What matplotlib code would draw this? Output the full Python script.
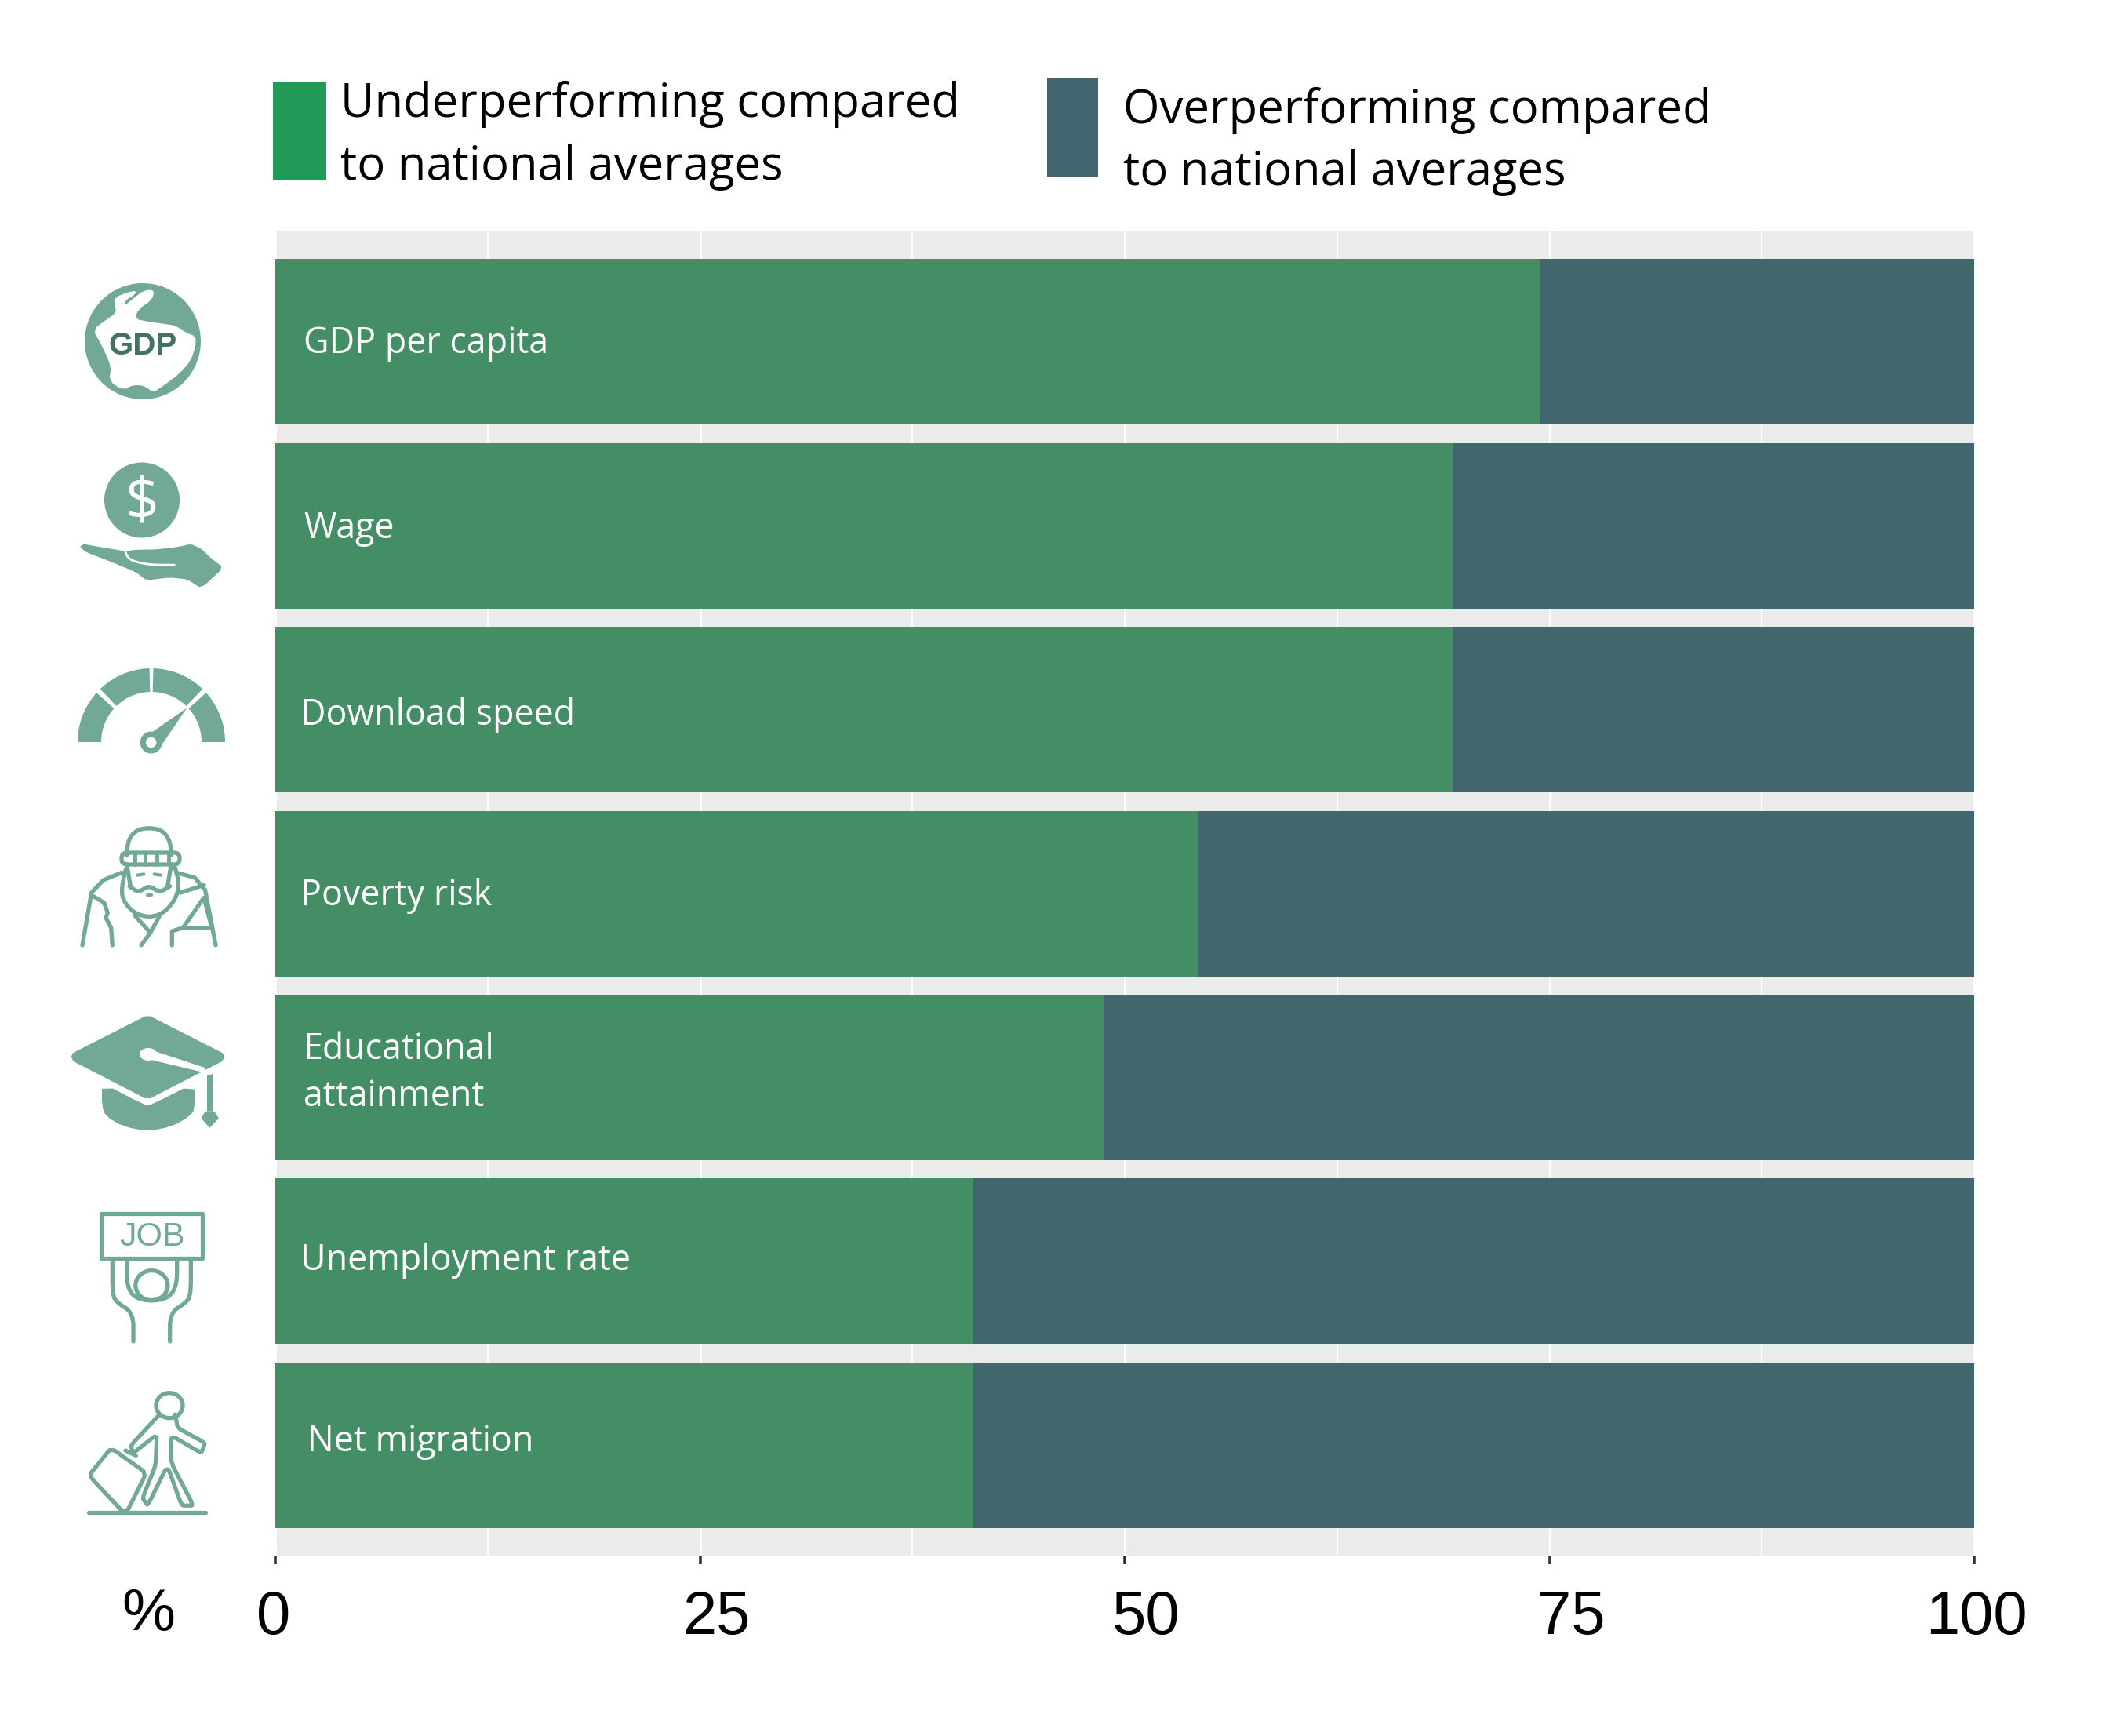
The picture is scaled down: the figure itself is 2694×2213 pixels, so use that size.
import numpy as np
import matplotlib
matplotlib.use("Agg")
import matplotlib.pyplot as plt
from matplotlib.patches import Rectangle, Polygon, Circle, Ellipse, FancyBboxPatch

W, H = 2694, 2213

categories = ["GDP per capita", "Wage", "Download speed", "Poverty risk",
              "Educational\nattainment", "Unemployment rate", "Net migration"]
under = [74.4, 69.3, 69.3, 54.3, 48.8, 41.1, 41.1]
over = [25.6, 30.7, 30.7, 45.7, 51.2, 58.9, 58.9]
ticks = [0, 25, 50, 75, 100]
tick_labels = ["0", "25", "50", "75", "100"]

GREEN = "#438E65"
DARK = "#42666E"
LEG_GREEN = "#229A58"
LEG_DARK = "#42666F"
ICON = "#72A897"
PANEL = "#EBEBEB"
SANS = "Open Sans"
ARIAL = "Liberation Sans"

fig = plt.figure(figsize=(W / 100, H / 100), dpi=100, facecolor="white")

# main panel
x0, x1, y0, y1 = 351, 2517, 295, 1983
ax = fig.add_axes([x0 / W, 1 - y1 / H, (x1 - x0) / W, (y1 - y0) / H], facecolor=PANEL)
pos = np.arange(1, len(categories) + 1)
ax.barh(pos, under, height=0.9, color=GREEN, zorder=3)
ax.barh(pos, over, height=0.9, left=under, color=DARK, zorder=3)
ax.set_xlim(0, 100)
ax.set_ylim(7.6, 0.4)
ax.set_xticks(ticks)
ax.set_xticklabels([])
ax.set_xticks([12.5, 37.5, 62.5, 87.5], minor=True)
ax.set_yticks([])
ax.grid(which="major", axis="x", color="white", lw=2.0, zorder=1)
ax.grid(which="minor", axis="x", color="white", lw=1.3, zorder=1)
ax.tick_params(axis="x", which="major", length=8, width=2.6, color="#333333")
ax.tick_params(axis="x", which="minor", length=0)
for s in ax.spines.values():
    s.set_visible(False)

# overlay in image pixels, for legend, labels and icons
ov = fig.add_axes([0, 0, 1, 1], facecolor="none", zorder=5)
ov.set_xlim(0, W)
ov.set_ylim(H, 0)
ov.axis("off")


def z1(pts):
    return [(60 + x / 3, 300 + y / 2.178) for x, y in pts]


def z2(pts):
    return [(60 + x / 3, 1020 + y / 1.568) for x, y in pts]


def rounded(pts, closed=False, n=2, cut=0.25):
    # corner cutting, the icons have soft joints
    p = np.array(pts, dtype=float)
    for _ in range(n):
        a = np.vstack([p, p[:1]]) if closed else p
        q = (1 - cut) * a[:-1] + cut * a[1:]
        r = cut * a[:-1] + (1 - cut) * a[1:]
        out = np.empty((2 * len(q), 2))
        out[0::2] = q
        out[1::2] = r
        if not closed:
            out = np.vstack([p[:1], out, p[-1:]])
        p = out
    return [tuple(v) for v in p]


def stroke(pts, closed=False, lw=3.8, color=ICON, soft=False, cut=0.25):
    pts = list(pts)
    if soft:
        pts = rounded(pts, closed, cut=cut)
    if closed:
        pts.append(pts[0])
    xs, ys = zip(*pts)
    ov.plot(xs, ys, color=color, lw=lw, solid_capstyle="round", solid_joinstyle="round")


def fill(pts, color=ICON):
    ov.add_patch(Polygon(pts, closed=True, facecolor=color, edgecolor="none"))


# legend
ov.add_patch(Rectangle((348, 104), 68, 125, facecolor=LEG_GREEN, edgecolor="none"))
ov.add_patch(Rectangle((1335, 100), 65, 125, facecolor=LEG_DARK, edgecolor="none"))
for x, y, s in [(434, 149, "Underperforming compared"), (434, 229, "to national averages"),
                (1432, 157, "Overperforming compared"), (1432, 236, "to national averages")]:
    ov.text(x, y, s, family=SANS, fontsize=43, va="baseline", ha="left", color="black")

# bar labels
label_pos = [(387, 438), (387, 674), (383, 912), (383, 1142), (387, 1368), (383, 1607), (392, 1838)]
for (x, y), s in zip(label_pos, categories):
    ov.text(x, y, s, family=SANS, fontsize=32.2, color="white", va="center", ha="left",
            linespacing=1.38)

# axis numbers sit a bit off their ticks in the original
label_x = [349, 913, 1461, 2003, 2520]
for x, s in zip(label_x, tick_labels):
    ov.text(x, 2083, s, family=ARIAL, fontsize=56, ha="center", va="baseline", color="black")
ov.text(189, 2078, "%", family=ARIAL, fontsize=55, ha="center", va="baseline", color="black")

# GDP globe
ov.add_patch(Circle((182, 435), 74, facecolor=ICON, edgecolor="none"))
fill(z1(rounded([(262, 172), (300, 160), (342, 153), (335, 165), (300, 180), (295, 197), (330, 175),
                 (372, 152), (412, 152), (400, 180), (350, 205), (335, 232), (390, 240), (440, 245),
                 (490, 250), (530, 270), (568, 280), (568, 310), (548, 350), (505, 385), (450, 415),
                 (405, 437), (375, 418), (330, 415), (290, 430), (238, 405), (245, 365), (225, 330),
                 (205, 300), (175, 262), (225, 235), (265, 215), (258, 190)], closed=True, n=1)),
     color="white")
ov.text(182, 441, "GDP", family=ARIAL, fontweight="bold", fontsize=29, color="#43735F",
        ha="center", va="center")

# coin and hand
ov.add_patch(Circle((181, 637.5), 48, facecolor=ICON, edgecolor="none"))
ov.text(181, 643, "$", family=SANS, fontsize=54, color="white", ha="center", va="center")
fill(z1(rounded([(125, 865), (140, 857), (200, 865), (300, 877), (340, 873), (420, 872), (500, 865),
                 (550, 857), (590, 870), (625, 895), (675, 923), (590, 980), (535, 955), (470, 950),
                 (380, 958), (340, 935), (240, 905), (150, 880)], closed=True, n=1, cut=0.15)))
stroke(z1([(300, 880), (312, 898), (345, 908), (400, 915), (487, 915)]), lw=2, color="white", soft=True)

# speed gauge
cx, cy = 193, 946
for a, b in [(0, 42), (46, 88.5), (91.5, 134), (138, 180)]:
    t = np.radians(np.linspace(a, b, 40))
    outer = np.c_[cx + 94 * np.cos(t), cy - 94 * np.sin(t)]
    inner = np.c_[cx + 64 * np.cos(t[::-1]), cy - 64 * np.sin(t[::-1])]
    fill(np.vstack([outer, inner]))
fill(z1([(405, 1378), (535, 1312), (432, 1422)]))
ov.add_patch(Circle((192.7, 946.5), 14, facecolor=ICON, edgecolor="none"))
ov.add_patch(Circle((192.7, 946.5), 6.7, facecolor="white", edgecolor="none"))

# poverty figure
stroke(z2([(305, 110), (310, 80), (340, 60), (390, 55), (440, 60), (470, 80), (475, 110)]), soft=True)
ov.add_patch(FancyBboxPatch((155, 1087), 74, 15, boxstyle="round,pad=0,rounding_size=7",
                            facecolor="none", edgecolor=ICON, lw=3.8))
for x in [335, 375, 420, 465]:
    stroke(z2([(x, 108), (x, 128)]), lw=3.5)
stroke(z2([(305, 128), (320, 175)]))
stroke(z2([(475, 128), (460, 175)]))
stroke(z2([(345, 150), (370, 148)]), lw=3)
stroke(z2([(410, 148), (435, 150)]), lw=3)
stroke(z2([(300, 140), (285, 175), (290, 200), (330, 225), (390, 235), (450, 225), (495, 195),
           (505, 165), (490, 135)]), soft=True)
stroke(z2([(315, 172), (350, 185), (390, 170), (430, 185), (470, 172)]), soft=True)
stroke(z2([(385, 190), (400, 190)]), lw=3)
stroke(z2([(285, 145), (215, 160), (170, 185), (135, 290)]))
stroke(z2([(170, 190), (218, 205), (232, 225), (225, 235), (245, 255), (250, 290)]))
stroke(z2([(495, 145), (565, 155), (605, 180), (645, 290)]))
stroke(z2([(510, 185), (600, 170)]))
stroke(z2([(478, 290), (478, 262), (520, 255), (600, 195), (630, 255), (520, 255)]))
stroke(z2([(335, 230), (395, 265), (360, 290)]))
stroke(z2([(395, 265), (430, 232)]))

# graduation cap
fill(z2([(92, 512), (100, 505), (375, 432), (395, 432), (670, 505), (680, 512), (670, 522),
         (395, 596), (375, 596), (100, 522)]))
fill(z2(rounded([(210, 565), (375, 610), (395, 610), (565, 565), (565, 618), (545, 632),
                 (480, 652), (385, 662), (290, 652), (225, 632), (210, 612)], closed=True, n=1)))
ov.add_patch(Ellipse(z2([(387, 508)])[0], 22, 16, facecolor="white", edgecolor="none"))
fill(z2([(390, 498), (605, 535), (605, 545), (390, 518)]), color="white")
fill(z2([(612, 550), (636, 547), (636, 622), (612, 622)]))
fill(z2([(590, 636), (605, 622), (640, 622), (657, 636), (622, 655)]))

# job sign
stroke(z2([(207, 826), (595, 826), (595, 916), (207, 916)]), closed=True)
ov.text(*z2([(401, 874)])[0], "JOB", family=ARIAL, fontsize=31, color=ICON, ha="center", va="center")
stroke(z2([(250, 920), (250, 990), (270, 1005), (330, 1025), (330, 1082)]), soft=True)
stroke(z2([(305, 920), (305, 965), (325, 990), (370, 1000), (430, 1000), (475, 990), (497, 965),
           (497, 920)]), soft=True)
stroke(z2([(550, 920), (550, 990), (530, 1005), (470, 1025), (470, 1082)]), soft=True)
ov.add_patch(Ellipse(z2([(400, 970)])[0], 41, 38, facecolor="none", edgecolor=ICON, lw=3.8))

# migrant with suitcase
ov.add_patch(Ellipse(z2([(468, 1210)])[0], 34, 32, facecolor="none", edgecolor=ICON, lw=3.8))
stroke(z2([(430, 1228), (320, 1290), (330, 1305), (420, 1268), (415, 1330), (365, 1395),
           (385, 1410), (460, 1330), (515, 1410), (560, 1410), (475, 1325), (475, 1270),
           (590, 1305), (605, 1285), (500, 1255), (490, 1228)]), soft=True, cut=0.1)
stroke(z2([(160, 1350), (245, 1295), (380, 1345), (300, 1428)]), closed=True, soft=True, cut=0.08)
stroke(z2([(300, 1300), (340, 1310)]))
stroke(z2([(160, 1423), (605, 1423)]))

fig.savefig("out.png", dpi=100, facecolor="white")
